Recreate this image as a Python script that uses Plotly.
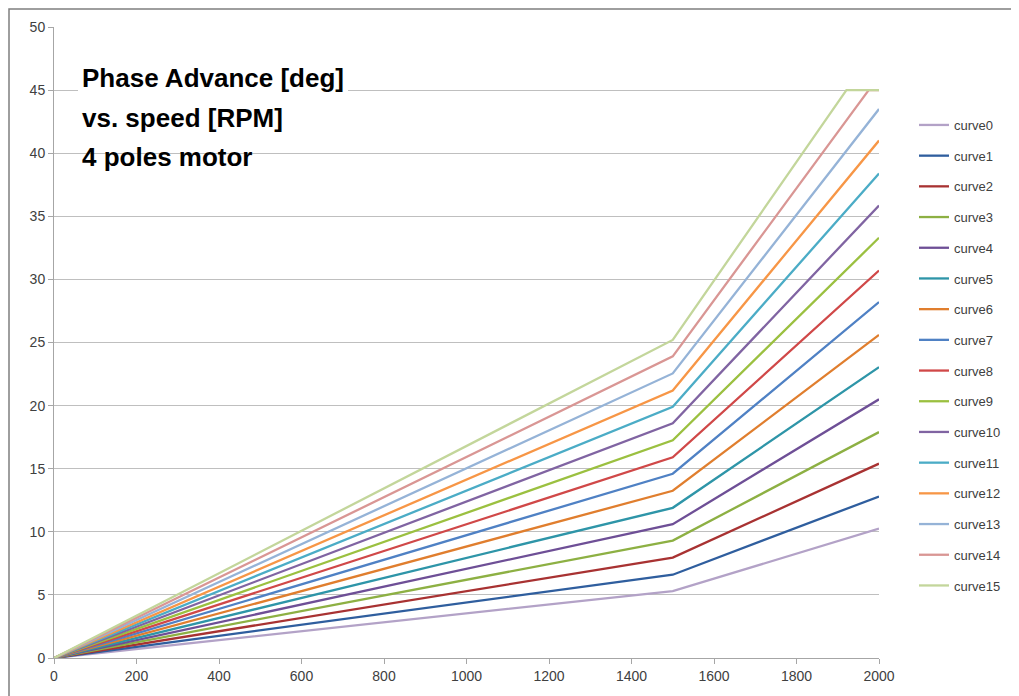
import plotly.graph_objects as go

# ---- data ----
curve_names = [f"curve{i}" for i in range(16)]
speed_knee = 1500
speed_max = 2000
phase_at_knee = [5.3, 6.6, 7.95, 9.3, 10.6, 11.9, 13.25, 14.6,
                 15.9, 17.25, 18.6, 19.9, 21.2, 22.55, 23.9, 25.2]
phase_at_max = [10.25, 12.8, 15.4, 17.9, 20.5, 23.05, 25.6, 28.2,
                30.7, 33.3, 35.85, 38.4, 41.0, 43.5, 45.0, 45.0]
# speed at which saturated curves reach the 45 deg limit
saturation_speed = {14: 1975, 15: 1921}
phase_limit = 45.0

colors = ["#B3A2C7", "#2F5E9E", "#A83232", "#8DB043", "#6E4F96", "#2E95A8",
          "#E07E2E", "#4F81C4", "#D04848", "#9BC040", "#8064A2", "#4BACC6",
          "#F79646", "#95B3D7", "#D99694", "#C3D69B"]

fig = go.Figure()
for i, name in enumerate(curve_names):
    xs = [0, speed_knee]
    ys = [0, phase_at_knee[i]]
    if i in saturation_speed:
        xs.append(saturation_speed[i])
        ys.append(phase_limit)
    xs.append(speed_max)
    ys.append(phase_at_max[i])
    fig.add_trace(go.Scatter(
        x=xs, y=ys, mode="lines", name=name, legendgroup=name,
        line=dict(color=colors[i], width=2.3)))

OFF = 8  # page body margin
W, H = 1019 - OFF, 696 - OFF
L, R, T, B = 54 - OFF, 879 - OFF, 27 - OFF, 658 - OFF
pw, ph = R - L, B - T

def px(x):  # page x -> paper
    return (x - OFF - L) / pw

def py(y):  # page y -> paper
    return (B - (y - OFF)) / ph

title_font = dict(family="Liberation Sans, Arial", size=26, color="black")

fig.update_layout(
    width=W, height=H,
    margin=dict(l=L, r=W - R, t=T, b=H - B),
    paper_bgcolor="white", plot_bgcolor="white",
    font=dict(family="Liberation Sans, Arial", size=13, color="#404040"),
    showlegend=True,
    legend=dict(x=px(914), y=py(110), xanchor="left", yanchor="top",
                traceorder="grouped", tracegroupgap=10.8,
                font=dict(size=13, color="#404040"),
                bgcolor="rgba(0,0,0,0)"),
    xaxis=dict(range=[0, 2000], dtick=200, tick0=0, showgrid=False,
               showline=True, linecolor="#A6A6A6", linewidth=1,
               ticks="outside", ticklen=5, tickcolor="#A6A6A6",
               zeroline=False, tickfont=dict(size=14)),
    yaxis=dict(range=[0, 50], dtick=5, tick0=0, showgrid=True,
               gridcolor="#BFBFBF", gridwidth=1,
               showline=True, linecolor="#A6A6A6", linewidth=1,
               ticks="outside", ticklen=5, tickcolor="#A6A6A6",
               zeroline=False, tickfont=dict(size=14)),
    shapes=[
        dict(type="rect", xref="paper", yref="paper",
             x0=px(9), x1=px(1030), y0=py(720), y1=py(9),
             line=dict(color="#7F7F7F", width=1.5), layer="below"),
        dict(type="rect", xref="paper", yref="paper",
             x0=px(78), x1=px(348), y0=py(138), y1=py(29),
             line=dict(width=0), fillcolor="white", layer="above"),
    ],
    annotations=[
        dict(xref="paper", yref="paper", x=px(80), y=py(78),
             xanchor="left", yanchor="middle", showarrow=False,
             text="<b>Phase Advance [deg]</b>", font=title_font),
        dict(xref="paper", yref="paper", x=px(80), y=py(118),
             xanchor="left", yanchor="middle", showarrow=False,
             text="<b>vs. speed [RPM]</b>", font=title_font),
        dict(xref="paper", yref="paper", x=px(80), y=py(157),
             xanchor="left", yanchor="middle", showarrow=False,
             text="<b>4 poles motor</b>", font=title_font),
    ],
)

fig.write_html("out.html")
